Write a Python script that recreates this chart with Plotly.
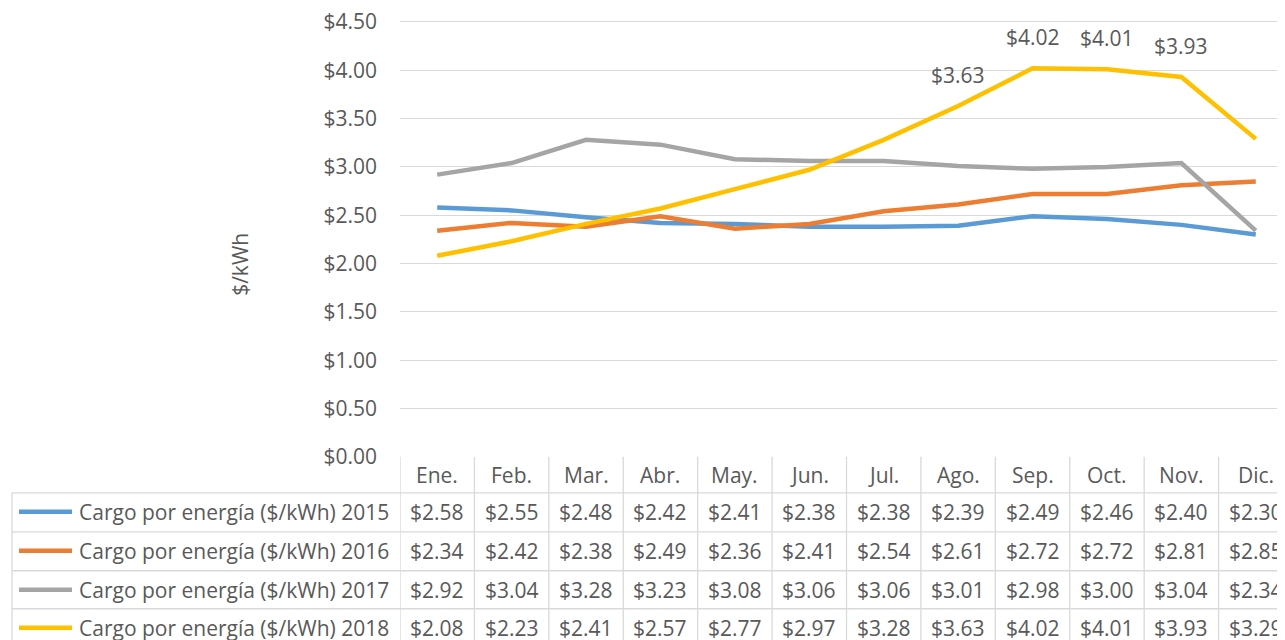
import plotly.graph_objects as go

months = ["Ene.", "Feb.", "Mar.", "Abr.", "May.", "Jun.", "Jul.", "Ago.", "Sep.", "Oct.", "Nov.", "Dic."]
series_names = ["Cargo por energía ($/kWh) 2015", "Cargo por energía ($/kWh) 2016",
                "Cargo por energía ($/kWh) 2017", "Cargo por energía ($/kWh) 2018"]
v2015 = [2.58, 2.55, 2.48, 2.42, 2.41, 2.38, 2.38, 2.39, 2.49, 2.46, 2.40, 2.30]
v2016 = [2.34, 2.42, 2.38, 2.49, 2.36, 2.41, 2.54, 2.61, 2.72, 2.72, 2.81, 2.85]
v2017 = [2.92, 3.04, 3.28, 3.23, 3.08, 3.06, 3.06, 3.01, 2.98, 3.00, 3.04, 2.34]
v2018 = [2.08, 2.23, 2.41, 2.57, 2.77, 2.97, 3.28, 3.63, 4.02, 4.01, 3.93, 3.29]
labeled_2018 = ["Ago.", "Sep.", "Oct.", "Nov."]
colors = ["#5B9BD5", "#ED7D31", "#A5A5A5", "#FFC000"]
all_values = [v2015, v2016, v2017, v2018]

# screen layout (page has 8px body offset)
OFF = 8
W, H = 1285, 640
YMIN, YMAX = 0.0, 4.5
PAD_LO, PAD_HI = 0.002, 0.02
ZERO_PX, TOP_PX = 457, 22          # screen y of $0.00 and $4.50
K = (ZERO_PX - TOP_PX) / (YMAX - YMIN)
SCR_L, SCR_R = 400, 1293
SCR_B = ZERO_PX + PAD_LO * K
SCR_T = TOP_PX - PAD_HI * K
L = SCR_L - OFF
T = SCR_T - OFF
R = max(0, (W + OFF) - SCR_R)
B = (H + OFF) - SCR_B
PW, PH = SCR_R - SCR_L, SCR_B - SCR_T
FONT = "Open Sans"
TXT = "#595959"
GRID = "#D9D9D9"
FS = 21

def px_x(p):
    return (p - SCR_L) / PW

def px_y(p):
    return (SCR_B - p) / PH

fig = go.Figure()
for name, vals, col in zip(series_names, all_values, colors):
    fig.add_trace(go.Scatter(x=months, y=vals, mode="lines", name=name,
                             line=dict(color=col, width=4.5), showlegend=False,
                             cliponaxis=False))

annotations = []
shapes = []
fnt = dict(size=FS, color=TXT, family=FONT)

for m in labeled_2018:
    i = months.index(m)
    annotations.append(dict(x=m, y=v2018[i], xref="x", yref="y", text=f"${v2018[i]:.2f}",
                            showarrow=False, yshift=31, xanchor="center", yanchor="middle",
                            font=fnt))

header_top, header_bot = 457, 493
row_lines = [493, 532, 571, 609]
row_centers = [512, 551, 590, 628]
bottom = 650

for m in months:
    annotations.append(dict(x=m, y=px_y((header_top + header_bot) / 2), xref="x", yref="paper",
                            text=m, showarrow=False, xanchor="center", yanchor="middle", font=fnt))
for r, vals in enumerate(all_values):
    for m, v in zip(months, vals):
        annotations.append(dict(x=m, y=px_y(row_centers[r]), xref="x", yref="paper",
                                text=f"${v:.2f}", showarrow=False, xanchor="center",
                                yanchor="middle", font=fnt))
    annotations.append(dict(x=px_x(77), y=px_y(row_centers[r]), xref="paper", yref="paper",
                            xanchor="left", yanchor="middle", text=series_names[r],
                            showarrow=False, font=fnt))
    shapes.append(dict(type="line", xref="paper", yref="paper", x0=px_x(19), x1=px_x(72),
                       y0=px_y(row_centers[r]), y1=px_y(row_centers[r]),
                       line=dict(color=colors[r], width=4.5)))

for i in range(len(months) + 1):
    shapes.append(dict(type="line", xref="x", yref="paper", x0=i - 0.5, x1=i - 0.5,
                       y0=px_y(header_top), y1=px_y(bottom), line=dict(color=GRID, width=1.3)))
for yl in row_lines:
    shapes.append(dict(type="line", xref="paper", yref="paper", x0=px_x(12), x1=1,
                       y0=px_y(yl), y1=px_y(yl), line=dict(color=GRID, width=1.3)))
shapes.append(dict(type="line", xref="paper", yref="paper", x0=px_x(12), x1=px_x(12),
                   y0=px_y(row_lines[0]), y1=px_y(bottom), line=dict(color=GRID, width=1.3)))

annotations.append(dict(x=px_x(240), y=px_y(265), xref="paper", yref="paper", text="$/kWh",
                        textangle=-90, showarrow=False, xanchor="center", yanchor="middle",
                        font=fnt))

fig.update_layout(
    width=W, height=H, margin=dict(l=L, r=R, t=T, b=B),
    paper_bgcolor="white", plot_bgcolor="white",
    font=dict(family=FONT, size=FS, color=TXT),
    xaxis=dict(type="category", range=[-0.5, 11.5], showticklabels=False, showgrid=False,
               zeroline=False, showline=False, ticks=""),
    yaxis=dict(range=[YMIN - PAD_LO, YMAX + PAD_HI], tickmode="linear", tick0=0, dtick=0.5,
               tickprefix="$", tickformat=".2f", showgrid=True, ticklabeloverflow="allow",
               gridcolor=GRID, gridwidth=1.3, zeroline=False, showline=False, ticks="",
               ticklabelstandoff=22, tickfont=fnt),
    annotations=annotations, shapes=shapes,
)
fig.write_html("out.html")
